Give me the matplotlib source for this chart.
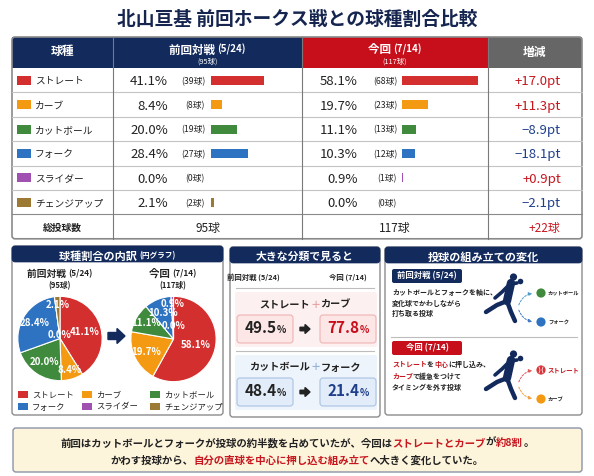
import matplotlib
matplotlib.use('Agg')
import matplotlib.pyplot as plt
from matplotlib.patches import Rectangle, FancyBboxPatch, FancyArrow, FancyArrowPatch, Circle

plt.rcParams['font.family'] = ['Noto Sans CJK JP', 'DejaVu Sans']

# data
pitch_types = ['ストレート', 'カーブ', 'カットボール', 'フォーク', 'スライダー', 'チェンジアップ']
pitch_colors = ['#d42f2f', '#f39a12', '#3f8a3c', '#2d73c2', '#a050b0', '#9c7a34']
prev_pct = [41.1, 8.4, 20.0, 28.4, 0.0, 2.1]
prev_cnt = [39, 8, 19, 27, 0, 2]
curr_pct = [58.1, 19.7, 11.1, 10.3, 0.9, 0.0]
curr_cnt = [68, 23, 13, 12, 1, 0]
diff_pt = [17.0, 11.3, -8.9, -18.1, 0.9, -2.1]
prev_total = 95
curr_total = 117
prev_label = '前回対戦'
curr_label = '今回'
prev_date = '(5/24)'
curr_date = '(7/14)'
group_labels = [('ストレート', 'カーブ'), ('カットボール', 'フォーク')]
group_prev = [49.5, 48.4]
group_curr = [77.8, 21.4]

NAVY = '#122a5c'
RED = '#c70f1c'
GRAY = '#666666'
TXT = '#222222'
POS = '#c8161e'
NEG = '#1f3f8a'

W, H = 594, 476
fig = plt.figure(figsize=(W / 100, H / 100), dpi=100)
ax = fig.add_axes([0, 0, 1, 1])
ax.set_xlim(0, W)
ax.set_ylim(H, 0)
ax.axis('off')
rend = fig.canvas.get_renderer()


def runs(x, y, parts, ha='left', va='center_baseline'):
    # draw text pieces one after another, each (text, color, size, weight)
    texts = []
    cur = x
    for s, c, fs, fw in parts:
        t = ax.text(cur, y, s, color=c, fontsize=fs, fontweight=fw, ha='left', va=va)
        cur += t.get_window_extent(renderer=rend).width
        texts.append(t)
    shift = {'left': 0, 'center': (cur - x) / 2, 'right': cur - x}[ha]
    for t in texts:
        t.set_x(t.get_position()[0] - shift)


def panel(x0, y0, x1, y1, title_parts):
    ax.add_patch(FancyBboxPatch((x0, y0), x1 - x0, y1 - y0, boxstyle='round,pad=0,rounding_size=3',
                                fc='white', ec='#8c8c8c', lw=1, zorder=1))
    ax.add_patch(FancyBboxPatch((x0, y0), x1 - x0, 16, boxstyle='round,pad=0,rounding_size=3',
                                fc=NAVY, ec=NAVY, lw=0.5, zorder=1.1))
    runs((x0 + x1) / 2, y0 + 8.5, title_parts, ha='center')


# title
ax.text(W / 2, 19, '北山亘基 前回ホークス戦との球種割合比較', ha='center', va='center',
        fontsize=13.5, fontweight='bold', color='#16254f')

# ---------------- table ----------------
col_x = [12, 113, 302, 488, 582]
top, head_bot = 37, 68
row_h = 24.4
n_rows = len(pitch_types) + 1
bottom = head_bot + n_rows * row_h
head_colors = [NAVY, NAVY, RED, GRAY]
for i, c in enumerate(head_colors):
    ax.add_patch(Rectangle((col_x[i], top), col_x[i + 1] - col_x[i], head_bot - top, fc=c, ec='none'))
ax.add_patch(FancyBboxPatch((col_x[0], top), col_x[-1] - col_x[0], bottom - top,
                            boxstyle='round,pad=0,rounding_size=3', fc='none', ec='#8a8a8a', lw=1.2, zorder=2))

ax.text((col_x[0] + col_x[1]) / 2, 52, '球種', color='white', fontsize=8.5, fontweight='bold', ha='center', va='center')
runs((col_x[1] + col_x[2]) / 2, 48.5, [(prev_label + ' ', 'white', 8.3, 'bold'), (prev_date, 'white', 7, 'bold')], ha='center')
ax.text((col_x[1] + col_x[2]) / 2, 61.5, f'({prev_total}球)', color='white', fontsize=5.3, ha='center', va='center')
runs((col_x[2] + col_x[3]) / 2, 48.5, [(curr_label + ' ', 'white', 8.3, 'bold'), (curr_date, 'white', 7, 'bold')], ha='center')
ax.text((col_x[2] + col_x[3]) / 2, 61.5, f'({curr_total}球)', color='white', fontsize=5.3, ha='center', va='center')
ax.text((col_x[3] + col_x[4]) / 2, 52, '増減', color='white', fontsize=8.5, fontweight='bold', ha='center', va='center')

for k in range(1, n_rows):
    yy = head_bot + k * row_h
    ax.plot([col_x[0], col_x[-1]], [yy, yy], color='#c4c4c4' if k < n_rows - 1 else '#8a8a8a', lw=0.8)
for xx in col_x[1:-1]:
    ax.plot([xx, xx], [top, bottom], color='#7a7a7a', lw=0.8, zorder=2)

bar_scale = 1.3
bar_h = 9
for i, name in enumerate(pitch_types):
    yc = head_bot + (i + 0.5) * row_h
    ax.add_patch(Rectangle((17, yc - 4.5), 14, 9, fc=pitch_colors[i], ec='none'))
    ax.text(35, yc, name, fontsize=7, color=TXT, va='center_baseline', ha='left')
    # previous
    ax.text(168, yc, f'{prev_pct[i]:.1f}%', fontsize=9.5, color=TXT, ha='right', va='center_baseline')
    ax.text(205, yc, f'({prev_cnt[i]}球)', fontsize=6.3, color=TXT, ha='right', va='center_baseline')
    ax.barh(yc, prev_pct[i] * bar_scale, left=211, height=bar_h, color=pitch_colors[i])
    # current
    ax.text(358, yc, f'{curr_pct[i]:.1f}%', fontsize=9.5, color=TXT, ha='right', va='center_baseline')
    ax.text(397, yc, f'({curr_cnt[i]}球)', fontsize=6.3, color=TXT, ha='right', va='center_baseline')
    ax.barh(yc, curr_pct[i] * bar_scale, left=402, height=bar_h, color=pitch_colors[i])
    d = diff_pt[i]
    ax.text(561, yc, f'{"+" if d > 0 else "−"}{abs(d):.1f}pt', fontsize=9.5,
            color=POS if d > 0 else NEG, ha='right', va='center_baseline')

yc = head_bot + (n_rows - 0.5) * row_h
ax.text((col_x[0] + col_x[1]) / 2, yc, '総投球数', fontsize=7, fontweight='bold', color=TXT, ha='center', va='center_baseline')
ax.text((col_x[1] + col_x[2]) / 2, yc, f'{prev_total}球', fontsize=8.5, color=TXT, ha='center', va='center_baseline')
ax.text((col_x[2] + col_x[3]) / 2, yc, f'{curr_total}球', fontsize=8.5, color=TXT, ha='center', va='center_baseline')
ax.text(560, yc, f'+{curr_total - prev_total}球', fontsize=8.5, color=POS, ha='right', va='center_baseline')

# ---------------- pie panel ----------------
panel(12, 246, 223, 415, [('球種割合の内訳 ', 'white', 8, 'bold'), ('(円グラフ)', 'white', 5.5, 'bold')])
runs(60, 273, [(prev_label + ' ', TXT, 7, 'bold'), (prev_date, TXT, 6, 'bold')], ha='center')
ax.text(60, 286, f'({prev_total}球)', fontsize=5.5, fontweight='bold', color=TXT, ha='center', va='center')
runs(173, 273, [(curr_label + ' ', TXT, 7.5, 'bold'), (curr_date, TXT, 6, 'bold')], ha='center')
ax.text(173, 286, f'({curr_total}球)', fontsize=5.5, fontweight='bold', color=TXT, ha='center', va='center')


def draw_pie(cx, cy, r, vals, dists):
    pax = fig.add_axes([(cx - r) / W, 1 - (cy + r) / H, 2 * r / W, 2 * r / H])
    labels = iter([f'{v:.1f}%' for v in vals])
    wedges, _, autotexts = pax.pie(vals, colors=pitch_colors, startangle=90, counterclock=False,
                                   autopct=lambda p: next(labels), pctdistance=0.62,
                                   wedgeprops=dict(edgecolor='white', linewidth=0.8),
                                   textprops=dict(color='white', fontsize=7, fontweight='bold'))
    # push small-slice labels apart so they stay readable
    for t, d in zip(autotexts, dists):
        px, py = t.get_position()
        t.set_position((px / 0.62 * d, py / 0.62 * d))
    pax.set_xlim(-1.02, 1.02)
    pax.set_ylim(-1.02, 1.02)
    pax.set_aspect('equal')
    pax.axis('off')


draw_pie(60, 338.5, 43, prev_pct, [0.6, 0.78, 0.66, 0.7, 0.08, 0.8])
draw_pie(173.5, 339, 43.5, curr_pct, [0.55, 0.72, 0.75, 0.65, 0.82, 0.3])
ax.add_patch(FancyArrow(108, 336, 9, 0, width=7, head_width=15, head_length=8,
                        length_includes_head=False, fc=NAVY, ec=NAVY))

leg_x = [18, 82, 150]
leg_y = [394, 406]
for i, name in enumerate(pitch_types):
    lx, ly = leg_x[i % 3], leg_y[i // 3]
    ax.add_patch(Rectangle((lx, ly - 3.5), 10, 7, fc=pitch_colors[i], ec='none'))
    ax.text(lx + 14, ly, name, fontsize=6, color=TXT, va='center_baseline', ha='left')

# ---------------- group panel ----------------
panel(230, 247, 380, 417, [('大きな分類で見ると', 'white', 7.8, 'bold')])
ax.text(253, 277, f'{prev_label} {prev_date}', fontsize=5.3, fontweight='bold', color=TXT, ha='center', va='center')
ax.text(348, 277, f'{curr_label} {curr_date}', fontsize=5.3, fontweight='bold', color=TXT, ha='center', va='center')
ax.plot([236, 374], [288, 288], color='#bdbdbd', lw=0.8)
ax.plot([236, 374], [351, 351], color='#bdbdbd', lw=0.8)

group_styles = [('#fdf0f0', '#fde6e6', '#efb3b3', '#e5a0a0', RED),
                ('#eef4fb', '#e3edf9', '#a9c3e4', '#8fb0d8', NEG)]
group_top = [292, 355]
for g in range(len(group_labels)):
    bg, box_fc, box_ec, plus_c, curr_c = group_styles[g]
    gy = group_top[g]
    ax.add_patch(FancyBboxPatch((235, gy), 142, 55, boxstyle='round,pad=0,rounding_size=2', fc=bg, ec='none'))
    a, b = group_labels[g]
    runs(305, gy + 11.5, [(a, TXT, 7.3, 'bold'), ('＋', plus_c, 7.3, 'bold'), (b, TXT, 7.3, 'bold')], ha='center')
    for bx, val, col in [(237, group_prev[g], TXT), (320, group_curr[g], curr_c)]:
        ax.add_patch(FancyBboxPatch((bx, gy + 23), 56, 28, boxstyle='round,pad=0,rounding_size=3',
                                    fc=box_fc, ec=box_ec, lw=0.8))
        runs(bx + 28, gy + 41, [(f'{val:.1f}', col, 11, 'bold'), ('%', col, 7, 'bold')], ha='center', va='baseline')
    ax.add_patch(FancyArrow(300, gy + 37, 5, 0, width=3.5, head_width=9, head_length=5,
                            length_includes_head=False, fc=TXT, ec=TXT))

# ---------------- pitching style panel ----------------
panel(385, 247, 582, 415, [('投球の組み立ての変化', 'white', 8, 'bold')])
ax.plot([391, 577], [337, 337], color='#bdbdbd', lw=0.8)


def badge(y0, text, color):
    ax.add_patch(FancyBboxPatch((392, y0), 70, 14, boxstyle='round,pad=0,rounding_size=2', fc=color, ec='none'))
    ax.text(427, y0 + 7, text, fontsize=6, fontweight='bold', color='white', ha='center', va='center')


def pitcher(dy):
    kw = dict(color=NAVY, solid_capstyle='round', solid_joinstyle='round')
    ax.plot([511, 507], [283 + dy, 301 + dy], lw=6, **kw)
    ax.plot([507, 497, 486], [301 + dy, 305 + dy, 312 + dy], lw=3.2, **kw)
    ax.plot([507, 511, 515], [301 + dy, 312 + dy, 321 + dy], lw=3.2, **kw)
    ax.plot([510, 502, 495], [284 + dy, 292 + dy, 298 + dy], lw=2.6, **kw)
    ax.plot([511, 517], [284 + dy, 283 + dy], lw=2.6, **kw)
    ax.add_patch(Circle((513.5, 277 + dy), 3.6, fc=NAVY, ec='none'))
    ax.add_patch(Circle((520.5, 281.5 + dy), 2.8, fc=NAVY, ec='none'))


def ball_arrows(dy, c_up, c_dn, lab_up, lab_dn, arr_up, arr_dn, lab_up_c):
    for yy, cc, lab, ac, lc in [(293 + dy, c_up, lab_up, arr_up, lab_up_c), (322 + dy, c_dn, lab_dn, arr_dn, TXT)]:
        ax.add_patch(FancyArrowPatch((518, 307.5 + dy), (535, yy), arrowstyle='-|>', mutation_scale=5,
                                     connectionstyle=f'arc3,rad={-0.35 if yy < 307 + dy else 0.35}',
                                     color=ac, lw=0.7, linestyle=(0, (2, 1.5))))
        ax.add_patch(Circle((541, yy), 4.6, fc=cc, ec='none'))
        ax.text(548, yy, lab, fontsize=3.8 if lc == TXT else 4.6, fontweight='bold', color=lc,
                ha='left', va='center_baseline')


badge(269, f'{prev_label} {prev_date}', NAVY)
for yy, s in zip([292, 302.5, 313], ['カットボールとフォークを軸に、', '変化球でかわしながら', '打ち取る投球']):
    ax.text(392, yy, s, fontsize=5, fontweight='bold', color=TXT, ha='left', va='center_baseline')
pitcher(0)
ball_arrows(0, pitch_colors[2], pitch_colors[3], pitch_types[2], pitch_types[3], '#4f9bc8', '#3f78c6', TXT)

badge(341, f'{curr_label} {curr_date}', RED)
runs(392, 364, [('ストレート', POS, 5, 'bold'), ('を', TXT, 5, 'bold'), ('中心', POS, 5, 'bold'),
                ('に押し込み、', TXT, 5, 'bold')])
runs(392, 375.5, [('カーブ', POS, 5, 'bold'), ('で緩急をつけて', TXT, 5, 'bold')])
ax.text(392, 387, 'タイミングを外す投球', fontsize=5, fontweight='bold', color=TXT, ha='left', va='center_baseline')
pitcher(77)
ball_arrows(77, '#d8353a', pitch_colors[1], pitch_types[0], pitch_types[1], '#e05a5a', '#f0a040', POS)
# baseball seams
ax.plot([539, 540, 539], [367, 370, 373], color='white', lw=0.5)
ax.plot([543, 542, 543], [367, 370, 373], color='white', lw=0.5)

# ---------------- summary box ----------------
ax.add_patch(FancyBboxPatch((13, 428), 569, 44, boxstyle='round,pad=0,rounding_size=3',
                            fc='#fdf4dc', ec='#8b95a8', lw=1))
fs = 7.5
runs(297, 442, [('前回はカットボールとフォークが投球の約半数を占めていたが、今回は', TXT, fs, 'bold'),
                ('ストレートとカーブ', POS, fs, 'bold'), ('が', TXT, fs, 'bold'),
                ('約8割', POS, fs, 'bold'), ('。', TXT, fs, 'bold')], ha='center')
runs(297, 460, [('かわす投球から、', TXT, fs, 'bold'), ('自分の直球を中心に押し込む組み立て', POS, fs, 'bold'),
                ('へ大きく変化していた。', TXT, fs, 'bold')], ha='center')

fig.savefig('out.png', dpi=100)
